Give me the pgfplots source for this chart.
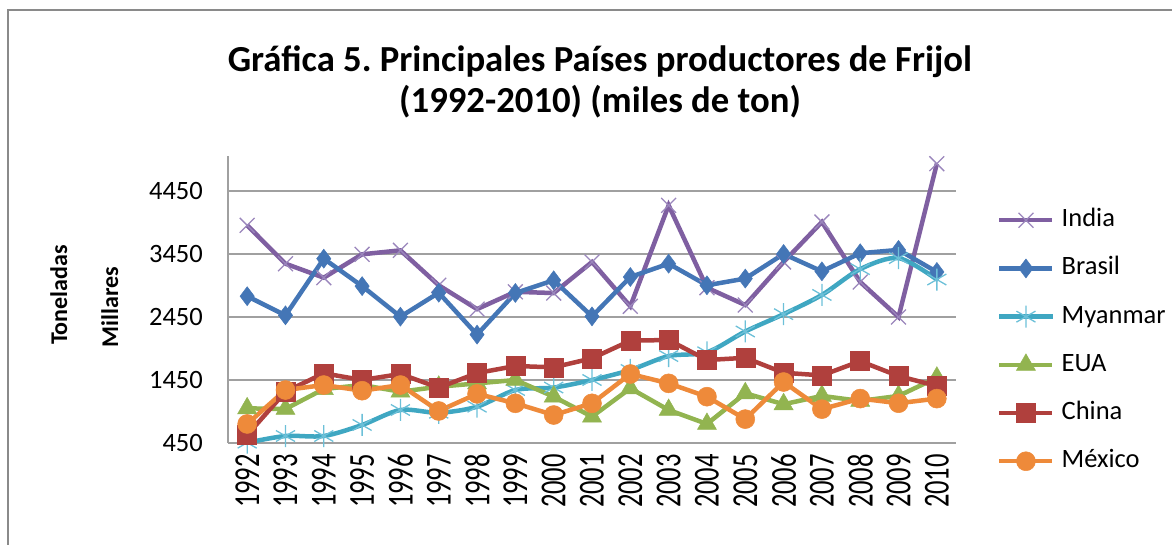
\documentclass[border=0pt]{standalone}
\usepackage{pgfplots}
\usepackage{pgfplotstable}
\pgfplotsset{compat=1.18}
\usepackage{fontspec}
\setmainfont{Carlito}
\frenchspacing
\definecolor{cIndia}{HTML}{7F5FA1}
\definecolor{cIndiaM}{HTML}{9A86BC}
\definecolor{cBrasil}{HTML}{4476B6}
\definecolor{cMyan}{HTML}{3FA7C2}
\definecolor{cMyanM}{HTML}{6CC0D8}
\definecolor{cEUA}{HTML}{92B450}
\definecolor{cChina}{HTML}{B0403D}
\definecolor{cMex}{HTML}{EE8A3A}
\definecolor{gridgray}{HTML}{A0A0A0}
\definecolor{framegray}{HTML}{8A8A8A}

\pgfplotstableread{
year India Brasil Myanmar EUA China Mexico
1992 3905 2780 455 1000 577 752
1993 3296 2476 561 990 1264 1291
1994 3074 3376 561 1307 1556 1370
1995 3445 2940 736 1370 1450 1280
1996 3508 2455 974 1264 1545 1370
1997 2953 2835 930 1343 1328 958
1998 2575 2170 1026 1396 1560 1230
1999 2850 2831 1291 1450 1672 1080
2000 2830 3032 1330 1185 1651 894
2001 3323 2460 1450 868 1794 1080
2002 2620 3085 1609 1318 2074 1545
2003 4222 3296 1830 974 2085 1397
2004 2915 2953 1890 752 1767 1185
2005 2640 3060 2220 1239 1802 829
2006 3323 3450 2495 1065 1565 1418
2007 3958 3175 2800 1197 1523 987
2008 3005 3462 3210 1118 1749 1155
2009 2450 3515 3385 1197 1513 1081
2010 4883 3165 3045 1486 1355 1155
}\datatable

\begin{document}
\begin{tikzpicture}
\path[use as bounding box] (0pt,0pt) rectangle (1172pt,545pt);
\draw[framegray, line width=2pt] (8pt,0pt) -- (8pt,535pt) -- (1172pt,535pt);
\node[font=\bfseries\fontsize{36.7}{42}\selectfont, anchor=base] at (600pt,473pt) {Gráfica 5. Principales Países productores de Frijol};
\node[font=\bfseries\fontsize{36.7}{42}\selectfont, anchor=base] at (600pt,432pt) {(1992-2010) (miles de ton)};
\node[font=\bfseries\fontsize{24}{28}\selectfont, rotate=90, anchor=base] at (67pt,250pt) {Toneladas};
\node[font=\bfseries\fontsize{24}{28}\selectfont, rotate=90, anchor=base] at (118pt,238pt) {Millares};
\begin{axis}[
  at={(228pt,102pt)}, anchor=south west,
  scale only axis, width=728pt, height=286.65pt,
  xmin=1991.5, xmax=2010.5, ymin=450, ymax=5000,
  xtick={1992,1993,...,2010}, ytick={450,1450,2450,3450,4450},
  axis x line=bottom, axis y line=left,
  axis line style={draw=gridgray, line width=1.5pt, -},
  ymajorgrids, major grid style={draw=gridgray, line width=1.5pt},
  major tick length=0pt,
  /pgf/number format/1000 sep={},
  /pgf/number format/assume math mode=true,
  tick label style={font=\fontsize{26.5}{30}\selectfont, inner sep=0pt},
  xticklabel style={rotate=90, yscale=1.38, anchor=east},
  xticklabel shift=11pt, yticklabel shift=25pt,
  clip=false,
  every axis plot/.append style={line width=4.5pt},
  legend cell align=left,
  legend image code/.code={\draw[mark repeat=2,mark phase=2] plot coordinates {(0pt,0pt) (26.5pt,0pt) (53pt,0pt)};},
  legend style={at={(1.0563,0.8214)}, anchor=north west, draw=none, fill=none,
    font=\fontsize{26.5}{30}\selectfont, inner sep=0pt, row sep=23.2pt, column sep=7pt,
    nodes={inner sep=0pt, text height=19pt, text depth=6pt}},
]
\addplot[color=cIndia, mark=x, mark size=10.5pt, mark options={draw=cIndiaM, line width=1.3pt}] table[x=year, y=India] {\datatable};
\addlegendentry{India}
\addplot[color=cBrasil, mark=diamond*, mark size=9.5pt, mark options={fill=cBrasil, draw=cBrasil, line width=0.5pt}] table[x=year, y=Brasil] {\datatable};
\addlegendentry{Brasil}
\addplot[color=cMyan, smooth, mark=asterisk, mark size=11pt, mark options={draw=cMyanM, line width=1.3pt}] table[x=year, y=Myanmar] {\datatable};
\addlegendentry{Myanmar}
\addplot[color=cEUA, mark=triangle*, mark size=11pt, mark options={fill=cEUA, draw=cEUA, line width=0.5pt}] table[x=year, y=EUA] {\datatable};
\addlegendentry{EUA}
\addplot[color=cChina, mark=square*, mark size=9.5pt, mark options={fill=cChina, draw=cChina, line width=0.5pt}] table[x=year, y=China] {\datatable};
\addlegendentry{China}
\addplot[color=cMex, mark=*, mark size=9.5pt, mark options={fill=cMex, draw=cMex, line width=0.5pt}] table[x=year, y=Mexico] {\datatable};
\addlegendentry{México}
\end{axis}
\end{tikzpicture}
\end{document}
